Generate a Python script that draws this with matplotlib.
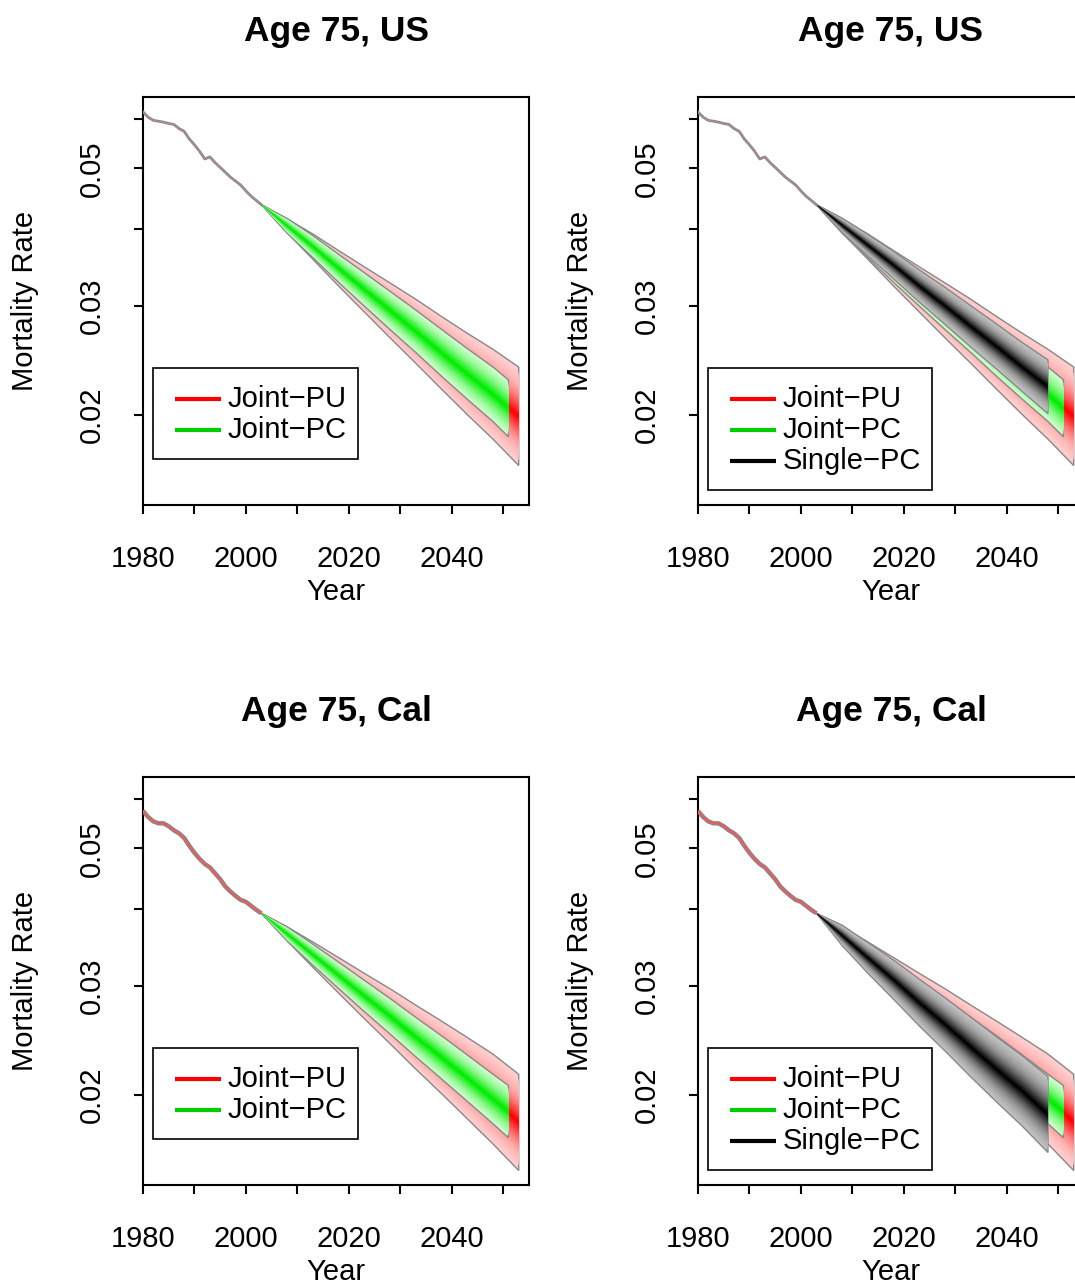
import numpy as np
import matplotlib
matplotlib.use("Agg")
import matplotlib.pyplot as plt
from matplotlib.patches import Rectangle
from matplotlib.ticker import FixedLocator, NullLocator, FixedFormatter
from statistics import NormalDist

plt.rcParams['font.family'] = ['Liberation Sans', 'DejaVu Sans']

# observed period
years_hist = list(range(1980, 2004))
us_hist = [0.0617, 0.0605, 0.0598, 0.0596, 0.0594, 0.0591, 0.0589, 0.0580,
           0.0574, 0.0558, 0.0546, 0.0533, 0.0518, 0.0522, 0.0511, 0.0502,
           0.0493, 0.0484, 0.0477, 0.0470, 0.0460, 0.0451, 0.0444, 0.0437]
cal_hist = [0.0575, 0.0562, 0.0553, 0.0549, 0.0549, 0.0543, 0.0535, 0.0529,
            0.0520, 0.0505, 0.0492, 0.0481, 0.0472, 0.0466, 0.0456, 0.0446,
            0.0434, 0.0426, 0.0419, 0.0413, 0.0410, 0.0404, 0.0398, 0.0393]

# forecast fans (outer bounds)
yrs_pu = [2003, 2008, 2013, 2018, 2023, 2028, 2033, 2038, 2043, 2048, 2053]
yrs_pc = [2003, 2008, 2013, 2018, 2023, 2028, 2033, 2038, 2043, 2048, 2051]
yrs_single = [2003, 2008, 2013, 2018, 2023, 2028, 2033, 2038, 2043, 2048]

us_pu_hi = [0.0437, 0.04146, 0.0392, 0.03685, 0.03469, 0.03267, 0.03075, 0.02884, 0.0271, 0.02553, 0.0239]
us_pu_lo = [0.0437, 0.03937, 0.03568, 0.0323, 0.02933, 0.02664, 0.02424, 0.02202, 0.02003, 0.01828, 0.01657]
us_pc_hi = [0.0437, 0.04151, 0.03897, 0.03634, 0.03394, 0.03167, 0.02954, 0.02749, 0.0256, 0.0239, 0.02279]
us_pc_lo = [0.0437, 0.03932, 0.0359, 0.03275, 0.02998, 0.02748, 0.02523, 0.0231, 0.02121, 0.01952, 0.01844]
us_single_hi = [0.0437, 0.04157, 0.03913, 0.03673, 0.0343, 0.03214, 0.03002, 0.02806, 0.02618, 0.02454]
us_single_lo = [0.0437, 0.03946, 0.03613, 0.03317, 0.03042, 0.028, 0.02574, 0.02372, 0.02182, 0.02009]

cal_pu_hi = [0.0393, 0.03736, 0.03532, 0.03333, 0.03143, 0.02968, 0.02793, 0.02632, 0.02477, 0.02328, 0.0216]
cal_pu_lo = [0.0393, 0.03547, 0.03215, 0.02921, 0.02657, 0.0242, 0.02202, 0.0201, 0.01831, 0.01667, 0.0151]
cal_pc_hi = [0.0393, 0.03736, 0.03504, 0.03277, 0.03063, 0.02863, 0.02668, 0.02492, 0.02321, 0.0216, 0.02072]
cal_pc_lo = [0.0393, 0.03547, 0.03241, 0.02971, 0.02727, 0.02509, 0.02305, 0.02123, 0.01954, 0.01797, 0.01706]
cal_single_hi = [0.0393, 0.0376, 0.03525, 0.03302, 0.03076, 0.0287, 0.02671, 0.02483, 0.02314, 0.02142]
cal_single_lo = [0.0393, 0.03485, 0.03145, 0.02854, 0.02585, 0.02355, 0.02139, 0.01949, 0.01781, 0.01615]

y_ticks = [0.02, 0.03, 0.04, 0.05, 0.06]
y_labels = ['0.02', '0.03', '', '0.05', '']
x_ticks = [1980, 1990, 2000, 2010, 2020, 2030, 2040, 2050]
x_labels = ['1980', '', '2000', '', '2020', '', '2040', '']

RED = (1.0, 0.0, 0.0)
RED_L = (1.0, 0.80, 0.80)
GREEN = (0.0, 0.93, 0.0)
GREEN_L = (0.80, 1.0, 0.80)
BLACK = (0.0, 0.0, 0.0)
BLACK_L = (0.75, 0.75, 0.75)

nd = NormalDist()
probs = np.arange(0.01, 0.50, 0.01)
fracs = np.array([nd.inv_cdf(p) for p in probs]) / nd.inv_cdf(0.01)


def fan(ax, yrs, hi, lo, c_full, c_light, gamma=0.85):
    yrs = np.array(yrs)
    lh = np.log(hi)
    ll = np.log(lo)
    lc = (lh + ll) / 2
    n = len(fracs)
    for k, f in enumerate(fracs):
        t = (k / (n - 1)) ** gamma
        col = tuple(c_light[i] + (c_full[i] - c_light[i]) * t for i in range(3))
        up = np.exp(lc + (lh - lc) * f)
        dn = np.exp(lc - (lc - ll) * f)
        xs = np.concatenate([yrs, yrs[::-1]])
        ys = np.concatenate([up, dn[::-1]])
        if k == 0:
            ax.fill(xs, ys, facecolor=col, edgecolor='#888888', linewidth=1.0, zorder=2)
        else:
            ax.fill(xs, ys, facecolor=col, edgecolor='none', zorder=2)


def box_legend(ax, labels, colors):
    # R-style legend box, sizes in pixels of the 386x408 plot box
    pw, ph = 386.0, 408.0
    nrow = len(labels)
    bw = 205 if nrow == 2 else 224
    bh = 91 if nrow == 2 else 122
    x0, ytop = 10, 271
    ax.add_patch(Rectangle((x0 / pw, 1 - (ytop + bh) / ph), bw / pw, bh / ph,
                           transform=ax.transAxes, facecolor='white',
                           edgecolor='black', linewidth=1.2, zorder=6))
    for r, (lab, col) in enumerate(zip(labels, colors)):
        yc = 1 - (ytop + 31 + 31 * r) / ph
        ax.plot([(x0 + 22) / pw, (x0 + 68) / pw], [yc, yc], transform=ax.transAxes,
                color=col, linewidth=3, solid_capstyle='butt', zorder=7)
        ax.text((x0 + 75) / pw, yc, lab, transform=ax.transAxes, fontsize=21,
                va='center', ha='left', zorder=7)


fig = plt.figure(figsize=(10.75, 12.85), dpi=100)
W, H = 1075, 1285

panels = [
    (143, 97, 'Age 75, US', us_hist, (us_pu_hi, us_pu_lo), (us_pc_hi, us_pc_lo), None),
    (698, 97, 'Age 75, US', us_hist, (us_pu_hi, us_pu_lo), (us_pc_hi, us_pc_lo), (us_single_hi, us_single_lo)),
    (143, 777, 'Age 75, Cal', cal_hist, (cal_pu_hi, cal_pu_lo), (cal_pc_hi, cal_pc_lo), None),
    (698, 777, 'Age 75, Cal', cal_hist, (cal_pu_hi, cal_pu_lo), (cal_pc_hi, cal_pc_lo), (cal_single_hi, cal_single_lo)),
]

for i, (x0, y0, title, hist, pu, pc, single) in enumerate(panels):
    ax = fig.add_axes([x0 / W, 1 - (y0 + 408) / H, 386 / W, 408 / H])
    ax.set_yscale('log')
    ax.set_xlim(1980, 2055)
    ax.set_ylim(0.01431, 0.06522)

    fan(ax, yrs_pu, pu[0], pu[1], RED, RED_L, 0.9)
    fan(ax, yrs_pc, pc[0], pc[1], GREEN, GREEN_L, 0.7)
    if single is not None:
        fan(ax, yrs_single, single[0], single[1], BLACK, BLACK_L, 0.85)

    if 'Cal' in title:
        ax.plot(years_hist, hist, color='#888888', linewidth=3.2, zorder=3, solid_capstyle='butt')
        ax.plot(years_hist, hist, color='#ff5555', linewidth=1.2, zorder=4)
    else:
        ax.plot(years_hist, hist, color='#888888', linewidth=2.0, zorder=3)
        ax.plot(years_hist, hist, color='#e09090', linewidth=0.6, zorder=4, alpha=0.6)

    ax.yaxis.set_major_locator(FixedLocator(y_ticks))
    ax.yaxis.set_major_formatter(FixedFormatter(y_labels))
    ax.yaxis.set_minor_locator(NullLocator())
    ax.xaxis.set_major_locator(FixedLocator(x_ticks))
    ax.xaxis.set_major_formatter(FixedFormatter(x_labels))
    ax.tick_params(axis='both', direction='out', length=6.5, width=1.5, labelsize=21)
    ax.tick_params(axis='x', pad=22)
    ax.tick_params(axis='y', pad=20)
    for lab in ax.get_yticklabels():
        lab.set_rotation(90)
        lab.set_va('center')
    for sp in ax.spines.values():
        sp.set_linewidth(1.5)

    ax.set_title(title, fontsize=25.5, fontweight='bold', pad=40)
    ax.set_xlabel('Year', fontsize=21)
    ax.set_ylabel('Mortality Rate', fontsize=21)
    ax.xaxis.set_label_coords(0.5, -0.18)
    ax.yaxis.set_label_coords(-0.27, 0.5)

    labels = ['Joint\u2212PU', 'Joint\u2212PC']
    colors = ['#ff0000', '#00cd00']
    if single is not None:
        labels.append('Single\u2212PC')
        colors.append('black')
    box_legend(ax, labels, colors)

fig.savefig('out.png', dpi=100)
